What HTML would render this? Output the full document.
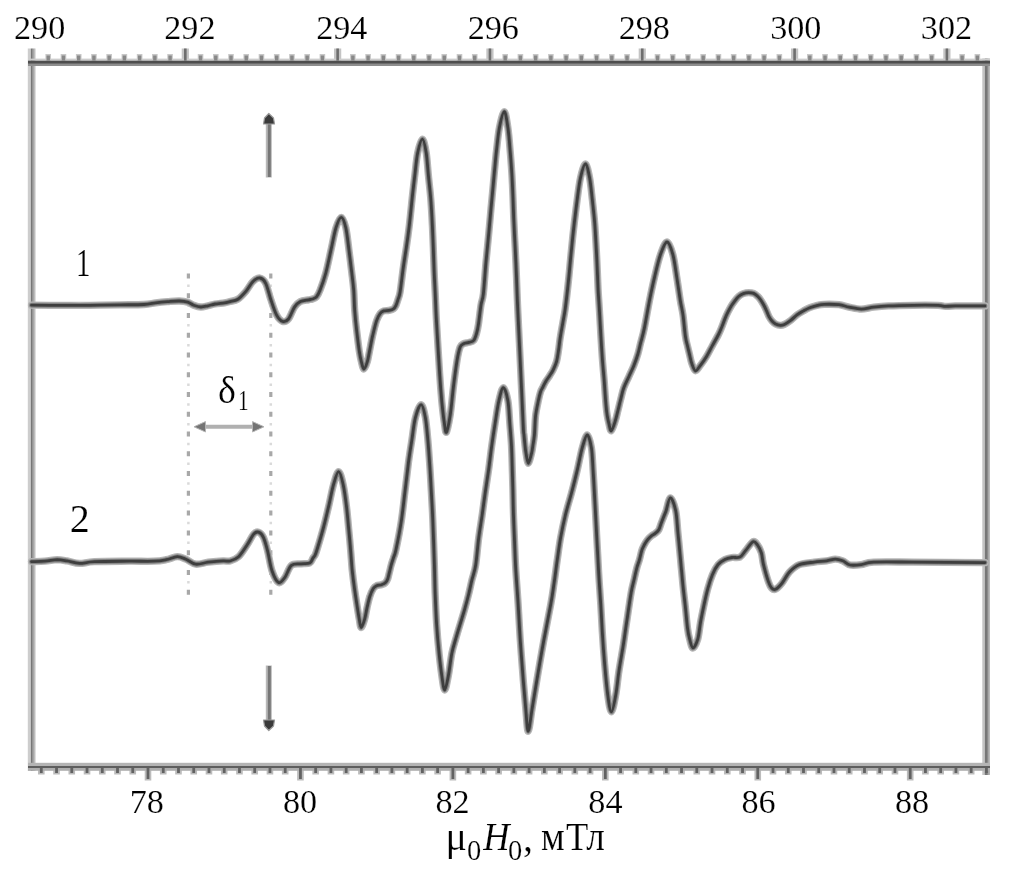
<!DOCTYPE html>
<html><head><meta charset="utf-8"><style>
html,body{margin:0;padding:0;background:#fff;}
body{width:1010px;height:882px;overflow:hidden;}
svg{display:block;}
text{font-family:"Liberation Serif",serif;fill:#000;}
</style></head><body>
<svg width="1010" height="882" viewBox="0 0 1010 882">
<rect width="1010" height="882" fill="#fff"/>
<g shape-rendering="auto"><rect x="45.43" y="54.00" width="5.60" height="6.70" fill="#c8c8c8"/><rect x="60.66" y="54.00" width="5.60" height="6.70" fill="#c8c8c8"/><rect x="75.90" y="54.00" width="5.60" height="6.70" fill="#c8c8c8"/><rect x="91.13" y="54.00" width="5.60" height="6.70" fill="#c8c8c8"/><rect x="106.36" y="54.00" width="5.60" height="6.70" fill="#c8c8c8"/><rect x="121.59" y="54.00" width="5.60" height="6.70" fill="#c8c8c8"/><rect x="136.82" y="54.00" width="5.60" height="6.70" fill="#c8c8c8"/><rect x="152.05" y="54.00" width="5.60" height="6.70" fill="#c8c8c8"/><rect x="167.28" y="54.00" width="5.60" height="6.70" fill="#c8c8c8"/><rect x="181.72" y="48.50" width="7.20" height="12.20" fill="#c4c4c4"/><rect x="197.75" y="54.00" width="5.60" height="6.70" fill="#c8c8c8"/><rect x="212.98" y="54.00" width="5.60" height="6.70" fill="#c8c8c8"/><rect x="228.21" y="54.00" width="5.60" height="6.70" fill="#c8c8c8"/><rect x="243.44" y="54.00" width="5.60" height="6.70" fill="#c8c8c8"/><rect x="258.68" y="54.00" width="5.60" height="6.70" fill="#c8c8c8"/><rect x="273.91" y="54.00" width="5.60" height="6.70" fill="#c8c8c8"/><rect x="289.14" y="54.00" width="5.60" height="6.70" fill="#c8c8c8"/><rect x="304.37" y="54.00" width="5.60" height="6.70" fill="#c8c8c8"/><rect x="319.60" y="54.00" width="5.60" height="6.70" fill="#c8c8c8"/><rect x="334.03" y="48.50" width="7.20" height="12.20" fill="#c4c4c4"/><rect x="350.06" y="54.00" width="5.60" height="6.70" fill="#c8c8c8"/><rect x="365.30" y="54.00" width="5.60" height="6.70" fill="#c8c8c8"/><rect x="380.53" y="54.00" width="5.60" height="6.70" fill="#c8c8c8"/><rect x="395.76" y="54.00" width="5.60" height="6.70" fill="#c8c8c8"/><rect x="410.99" y="54.00" width="5.60" height="6.70" fill="#c8c8c8"/><rect x="426.22" y="54.00" width="5.60" height="6.70" fill="#c8c8c8"/><rect x="441.45" y="54.00" width="5.60" height="6.70" fill="#c8c8c8"/><rect x="456.69" y="54.00" width="5.60" height="6.70" fill="#c8c8c8"/><rect x="471.92" y="54.00" width="5.60" height="6.70" fill="#c8c8c8"/><rect x="486.35" y="48.50" width="7.20" height="12.20" fill="#c4c4c4"/><rect x="502.38" y="54.00" width="5.60" height="6.70" fill="#c8c8c8"/><rect x="517.61" y="54.00" width="5.60" height="6.70" fill="#c8c8c8"/><rect x="532.85" y="54.00" width="5.60" height="6.70" fill="#c8c8c8"/><rect x="548.08" y="54.00" width="5.60" height="6.70" fill="#c8c8c8"/><rect x="563.31" y="54.00" width="5.60" height="6.70" fill="#c8c8c8"/><rect x="578.54" y="54.00" width="5.60" height="6.70" fill="#c8c8c8"/><rect x="593.77" y="54.00" width="5.60" height="6.70" fill="#c8c8c8"/><rect x="609.00" y="54.00" width="5.60" height="6.70" fill="#c8c8c8"/><rect x="624.24" y="54.00" width="5.60" height="6.70" fill="#c8c8c8"/><rect x="638.67" y="48.50" width="7.20" height="12.20" fill="#c4c4c4"/><rect x="654.70" y="54.00" width="5.60" height="6.70" fill="#c8c8c8"/><rect x="669.93" y="54.00" width="5.60" height="6.70" fill="#c8c8c8"/><rect x="685.16" y="54.00" width="5.60" height="6.70" fill="#c8c8c8"/><rect x="700.39" y="54.00" width="5.60" height="6.70" fill="#c8c8c8"/><rect x="715.62" y="54.00" width="5.60" height="6.70" fill="#c8c8c8"/><rect x="730.86" y="54.00" width="5.60" height="6.70" fill="#c8c8c8"/><rect x="746.09" y="54.00" width="5.60" height="6.70" fill="#c8c8c8"/><rect x="761.32" y="54.00" width="5.60" height="6.70" fill="#c8c8c8"/><rect x="776.55" y="54.00" width="5.60" height="6.70" fill="#c8c8c8"/><rect x="790.98" y="48.50" width="7.20" height="12.20" fill="#c4c4c4"/><rect x="807.02" y="54.00" width="5.60" height="6.70" fill="#c8c8c8"/><rect x="822.25" y="54.00" width="5.60" height="6.70" fill="#c8c8c8"/><rect x="837.48" y="54.00" width="5.60" height="6.70" fill="#c8c8c8"/><rect x="852.71" y="54.00" width="5.60" height="6.70" fill="#c8c8c8"/><rect x="867.94" y="54.00" width="5.60" height="6.70" fill="#c8c8c8"/><rect x="883.17" y="54.00" width="5.60" height="6.70" fill="#c8c8c8"/><rect x="898.41" y="54.00" width="5.60" height="6.70" fill="#c8c8c8"/><rect x="913.64" y="54.00" width="5.60" height="6.70" fill="#c8c8c8"/><rect x="928.87" y="54.00" width="5.60" height="6.70" fill="#c8c8c8"/><rect x="943.30" y="48.50" width="7.20" height="12.20" fill="#c4c4c4"/><rect x="959.33" y="54.00" width="5.60" height="6.70" fill="#c8c8c8"/><rect x="974.56" y="54.00" width="5.60" height="6.70" fill="#c8c8c8"/><rect x="37.99" y="768.00" width="6.60" height="6.50" fill="#bcbcbc"/><rect x="53.24" y="768.00" width="6.60" height="6.50" fill="#bcbcbc"/><rect x="68.48" y="768.00" width="6.60" height="6.50" fill="#bcbcbc"/><rect x="83.72" y="768.00" width="6.60" height="6.50" fill="#bcbcbc"/><rect x="98.97" y="768.00" width="6.60" height="6.50" fill="#bcbcbc"/><rect x="114.21" y="768.00" width="6.60" height="6.50" fill="#bcbcbc"/><rect x="129.46" y="768.00" width="6.60" height="6.50" fill="#bcbcbc"/><rect x="144.70" y="768.00" width="6.60" height="12.50" fill="#bcbcbc"/><rect x="159.94" y="768.00" width="6.60" height="6.50" fill="#bcbcbc"/><rect x="175.19" y="768.00" width="6.60" height="6.50" fill="#bcbcbc"/><rect x="190.43" y="768.00" width="6.60" height="6.50" fill="#bcbcbc"/><rect x="205.68" y="768.00" width="6.60" height="6.50" fill="#bcbcbc"/><rect x="220.92" y="768.00" width="6.60" height="6.50" fill="#bcbcbc"/><rect x="236.16" y="768.00" width="6.60" height="6.50" fill="#bcbcbc"/><rect x="251.41" y="768.00" width="6.60" height="6.50" fill="#bcbcbc"/><rect x="266.65" y="768.00" width="6.60" height="6.50" fill="#bcbcbc"/><rect x="281.90" y="768.00" width="6.60" height="6.50" fill="#bcbcbc"/><rect x="297.14" y="768.00" width="6.60" height="12.50" fill="#bcbcbc"/><rect x="312.38" y="768.00" width="6.60" height="6.50" fill="#bcbcbc"/><rect x="327.63" y="768.00" width="6.60" height="6.50" fill="#bcbcbc"/><rect x="342.87" y="768.00" width="6.60" height="6.50" fill="#bcbcbc"/><rect x="358.12" y="768.00" width="6.60" height="6.50" fill="#bcbcbc"/><rect x="373.36" y="768.00" width="6.60" height="6.50" fill="#bcbcbc"/><rect x="388.60" y="768.00" width="6.60" height="6.50" fill="#bcbcbc"/><rect x="403.85" y="768.00" width="6.60" height="6.50" fill="#bcbcbc"/><rect x="419.09" y="768.00" width="6.60" height="6.50" fill="#bcbcbc"/><rect x="434.34" y="768.00" width="6.60" height="6.50" fill="#bcbcbc"/><rect x="449.58" y="768.00" width="6.60" height="12.50" fill="#bcbcbc"/><rect x="464.82" y="768.00" width="6.60" height="6.50" fill="#bcbcbc"/><rect x="480.07" y="768.00" width="6.60" height="6.50" fill="#bcbcbc"/><rect x="495.31" y="768.00" width="6.60" height="6.50" fill="#bcbcbc"/><rect x="510.56" y="768.00" width="6.60" height="6.50" fill="#bcbcbc"/><rect x="525.80" y="768.00" width="6.60" height="6.50" fill="#bcbcbc"/><rect x="541.04" y="768.00" width="6.60" height="6.50" fill="#bcbcbc"/><rect x="556.29" y="768.00" width="6.60" height="6.50" fill="#bcbcbc"/><rect x="571.53" y="768.00" width="6.60" height="6.50" fill="#bcbcbc"/><rect x="586.78" y="768.00" width="6.60" height="6.50" fill="#bcbcbc"/><rect x="602.02" y="768.00" width="6.60" height="12.50" fill="#bcbcbc"/><rect x="617.26" y="768.00" width="6.60" height="6.50" fill="#bcbcbc"/><rect x="632.51" y="768.00" width="6.60" height="6.50" fill="#bcbcbc"/><rect x="647.75" y="768.00" width="6.60" height="6.50" fill="#bcbcbc"/><rect x="663.00" y="768.00" width="6.60" height="6.50" fill="#bcbcbc"/><rect x="678.24" y="768.00" width="6.60" height="6.50" fill="#bcbcbc"/><rect x="693.48" y="768.00" width="6.60" height="6.50" fill="#bcbcbc"/><rect x="708.73" y="768.00" width="6.60" height="6.50" fill="#bcbcbc"/><rect x="723.97" y="768.00" width="6.60" height="6.50" fill="#bcbcbc"/><rect x="739.22" y="768.00" width="6.60" height="6.50" fill="#bcbcbc"/><rect x="754.46" y="768.00" width="6.60" height="12.50" fill="#bcbcbc"/><rect x="769.70" y="768.00" width="6.60" height="6.50" fill="#bcbcbc"/><rect x="784.95" y="768.00" width="6.60" height="6.50" fill="#bcbcbc"/><rect x="800.19" y="768.00" width="6.60" height="6.50" fill="#bcbcbc"/><rect x="815.44" y="768.00" width="6.60" height="6.50" fill="#bcbcbc"/><rect x="830.68" y="768.00" width="6.60" height="6.50" fill="#bcbcbc"/><rect x="845.92" y="768.00" width="6.60" height="6.50" fill="#bcbcbc"/><rect x="861.17" y="768.00" width="6.60" height="6.50" fill="#bcbcbc"/><rect x="876.41" y="768.00" width="6.60" height="6.50" fill="#bcbcbc"/><rect x="891.66" y="768.00" width="6.60" height="6.50" fill="#bcbcbc"/><rect x="906.90" y="768.00" width="6.60" height="12.50" fill="#bcbcbc"/><rect x="922.14" y="768.00" width="6.60" height="6.50" fill="#bcbcbc"/><rect x="937.39" y="768.00" width="6.60" height="6.50" fill="#bcbcbc"/><rect x="952.63" y="768.00" width="6.60" height="6.50" fill="#bcbcbc"/><rect x="967.88" y="768.00" width="6.60" height="6.50" fill="#bcbcbc"/><rect x="983.12" y="768.00" width="6.60" height="6.50" fill="#bcbcbc"/><rect x="27.80" y="48.50" width="3.00" height="722.50" fill="#cdcdcd"/><rect x="30.80" y="48.50" width="2.00" height="722.50" fill="#777"/><rect x="32.80" y="48.50" width="2.00" height="722.50" fill="#a6a6a6"/><rect x="34.80" y="48.50" width="1.00" height="722.50" fill="#d8d8d8"/><rect x="982.30" y="58.50" width="2.50" height="716.50" fill="#c4c4c4"/><rect x="984.80" y="58.50" width="2.20" height="716.50" fill="#777"/><rect x="987.00" y="58.50" width="1.00" height="716.50" fill="#8a8a8a"/><rect x="988.00" y="58.50" width="1.80" height="716.50" fill="#a8a8a8"/><rect x="28.00" y="58.60" width="962.00" height="2.10" fill="#cdcdcd"/><rect x="28.00" y="60.70" width="962.00" height="2.30" fill="#4e4e4e"/><rect x="28.00" y="63.00" width="962.00" height="1.00" fill="#6c6c6c"/><rect x="28.00" y="64.00" width="962.00" height="2.00" fill="#8e8e8e"/><rect x="28.00" y="762.80" width="962.00" height="3.20" fill="#b4b4b4"/><rect x="28.00" y="766.00" width="962.00" height="2.00" fill="#5e5e5e"/><rect x="28.00" y="768.00" width="962.00" height="2.80" fill="#aeaeae"/><rect x="46.53" y="55.50" width="3.40" height="5.20" fill="#888"/><rect x="61.76" y="55.50" width="3.40" height="5.20" fill="#888"/><rect x="77.00" y="55.50" width="3.40" height="5.20" fill="#888"/><rect x="92.23" y="55.50" width="3.40" height="5.20" fill="#888"/><rect x="107.46" y="55.50" width="3.40" height="5.20" fill="#888"/><rect x="122.69" y="55.50" width="3.40" height="5.20" fill="#888"/><rect x="137.92" y="55.50" width="3.40" height="5.20" fill="#888"/><rect x="153.15" y="55.50" width="3.40" height="5.20" fill="#888"/><rect x="168.39" y="55.50" width="3.40" height="5.20" fill="#888"/><rect x="184.02" y="48.50" width="2.60" height="12.20" fill="#6e6e6e"/><rect x="198.85" y="55.50" width="3.40" height="5.20" fill="#888"/><rect x="214.08" y="55.50" width="3.40" height="5.20" fill="#888"/><rect x="229.31" y="55.50" width="3.40" height="5.20" fill="#888"/><rect x="244.54" y="55.50" width="3.40" height="5.20" fill="#888"/><rect x="259.78" y="55.50" width="3.40" height="5.20" fill="#888"/><rect x="275.01" y="55.50" width="3.40" height="5.20" fill="#888"/><rect x="290.24" y="55.50" width="3.40" height="5.20" fill="#888"/><rect x="305.47" y="55.50" width="3.40" height="5.20" fill="#888"/><rect x="320.70" y="55.50" width="3.40" height="5.20" fill="#888"/><rect x="336.33" y="48.50" width="2.60" height="12.20" fill="#6e6e6e"/><rect x="351.17" y="55.50" width="3.40" height="5.20" fill="#888"/><rect x="366.40" y="55.50" width="3.40" height="5.20" fill="#888"/><rect x="381.63" y="55.50" width="3.40" height="5.20" fill="#888"/><rect x="396.86" y="55.50" width="3.40" height="5.20" fill="#888"/><rect x="412.09" y="55.50" width="3.40" height="5.20" fill="#888"/><rect x="427.32" y="55.50" width="3.40" height="5.20" fill="#888"/><rect x="442.56" y="55.50" width="3.40" height="5.20" fill="#888"/><rect x="457.79" y="55.50" width="3.40" height="5.20" fill="#888"/><rect x="473.02" y="55.50" width="3.40" height="5.20" fill="#888"/><rect x="488.65" y="48.50" width="2.60" height="12.20" fill="#6e6e6e"/><rect x="503.48" y="55.50" width="3.40" height="5.20" fill="#888"/><rect x="518.71" y="55.50" width="3.40" height="5.20" fill="#888"/><rect x="533.94" y="55.50" width="3.40" height="5.20" fill="#888"/><rect x="549.18" y="55.50" width="3.40" height="5.20" fill="#888"/><rect x="564.41" y="55.50" width="3.40" height="5.20" fill="#888"/><rect x="579.64" y="55.50" width="3.40" height="5.20" fill="#888"/><rect x="594.87" y="55.50" width="3.40" height="5.20" fill="#888"/><rect x="610.10" y="55.50" width="3.40" height="5.20" fill="#888"/><rect x="625.34" y="55.50" width="3.40" height="5.20" fill="#888"/><rect x="640.97" y="48.50" width="2.60" height="12.20" fill="#6e6e6e"/><rect x="655.80" y="55.50" width="3.40" height="5.20" fill="#888"/><rect x="671.03" y="55.50" width="3.40" height="5.20" fill="#888"/><rect x="686.26" y="55.50" width="3.40" height="5.20" fill="#888"/><rect x="701.49" y="55.50" width="3.40" height="5.20" fill="#888"/><rect x="716.72" y="55.50" width="3.40" height="5.20" fill="#888"/><rect x="731.96" y="55.50" width="3.40" height="5.20" fill="#888"/><rect x="747.19" y="55.50" width="3.40" height="5.20" fill="#888"/><rect x="762.42" y="55.50" width="3.40" height="5.20" fill="#888"/><rect x="777.65" y="55.50" width="3.40" height="5.20" fill="#888"/><rect x="793.28" y="48.50" width="2.60" height="12.20" fill="#6e6e6e"/><rect x="808.12" y="55.50" width="3.40" height="5.20" fill="#888"/><rect x="823.35" y="55.50" width="3.40" height="5.20" fill="#888"/><rect x="838.58" y="55.50" width="3.40" height="5.20" fill="#888"/><rect x="853.81" y="55.50" width="3.40" height="5.20" fill="#888"/><rect x="869.04" y="55.50" width="3.40" height="5.20" fill="#888"/><rect x="884.27" y="55.50" width="3.40" height="5.20" fill="#888"/><rect x="899.50" y="55.50" width="3.40" height="5.20" fill="#888"/><rect x="914.74" y="55.50" width="3.40" height="5.20" fill="#888"/><rect x="929.97" y="55.50" width="3.40" height="5.20" fill="#888"/><rect x="945.60" y="48.50" width="2.60" height="12.20" fill="#6e6e6e"/><rect x="960.43" y="55.50" width="3.40" height="5.20" fill="#888"/><rect x="975.66" y="55.50" width="3.40" height="5.20" fill="#888"/><rect x="39.89" y="768.00" width="2.80" height="5.00" fill="#626262"/><rect x="55.14" y="768.00" width="2.80" height="5.00" fill="#626262"/><rect x="70.38" y="768.00" width="2.80" height="5.00" fill="#626262"/><rect x="85.62" y="768.00" width="2.80" height="5.00" fill="#626262"/><rect x="100.87" y="768.00" width="2.80" height="5.00" fill="#626262"/><rect x="116.11" y="768.00" width="2.80" height="5.00" fill="#626262"/><rect x="131.36" y="768.00" width="2.80" height="5.00" fill="#626262"/><rect x="146.60" y="768.00" width="2.80" height="11.00" fill="#626262"/><rect x="161.84" y="768.00" width="2.80" height="5.00" fill="#626262"/><rect x="177.09" y="768.00" width="2.80" height="5.00" fill="#626262"/><rect x="192.33" y="768.00" width="2.80" height="5.00" fill="#626262"/><rect x="207.58" y="768.00" width="2.80" height="5.00" fill="#626262"/><rect x="222.82" y="768.00" width="2.80" height="5.00" fill="#626262"/><rect x="238.06" y="768.00" width="2.80" height="5.00" fill="#626262"/><rect x="253.31" y="768.00" width="2.80" height="5.00" fill="#626262"/><rect x="268.55" y="768.00" width="2.80" height="5.00" fill="#626262"/><rect x="283.80" y="768.00" width="2.80" height="5.00" fill="#626262"/><rect x="299.04" y="768.00" width="2.80" height="11.00" fill="#626262"/><rect x="314.28" y="768.00" width="2.80" height="5.00" fill="#626262"/><rect x="329.53" y="768.00" width="2.80" height="5.00" fill="#626262"/><rect x="344.77" y="768.00" width="2.80" height="5.00" fill="#626262"/><rect x="360.02" y="768.00" width="2.80" height="5.00" fill="#626262"/><rect x="375.26" y="768.00" width="2.80" height="5.00" fill="#626262"/><rect x="390.50" y="768.00" width="2.80" height="5.00" fill="#626262"/><rect x="405.75" y="768.00" width="2.80" height="5.00" fill="#626262"/><rect x="420.99" y="768.00" width="2.80" height="5.00" fill="#626262"/><rect x="436.24" y="768.00" width="2.80" height="5.00" fill="#626262"/><rect x="451.48" y="768.00" width="2.80" height="11.00" fill="#626262"/><rect x="466.72" y="768.00" width="2.80" height="5.00" fill="#626262"/><rect x="481.97" y="768.00" width="2.80" height="5.00" fill="#626262"/><rect x="497.21" y="768.00" width="2.80" height="5.00" fill="#626262"/><rect x="512.46" y="768.00" width="2.80" height="5.00" fill="#626262"/><rect x="527.70" y="768.00" width="2.80" height="5.00" fill="#626262"/><rect x="542.94" y="768.00" width="2.80" height="5.00" fill="#626262"/><rect x="558.19" y="768.00" width="2.80" height="5.00" fill="#626262"/><rect x="573.43" y="768.00" width="2.80" height="5.00" fill="#626262"/><rect x="588.68" y="768.00" width="2.80" height="5.00" fill="#626262"/><rect x="603.92" y="768.00" width="2.80" height="11.00" fill="#626262"/><rect x="619.16" y="768.00" width="2.80" height="5.00" fill="#626262"/><rect x="634.41" y="768.00" width="2.80" height="5.00" fill="#626262"/><rect x="649.65" y="768.00" width="2.80" height="5.00" fill="#626262"/><rect x="664.90" y="768.00" width="2.80" height="5.00" fill="#626262"/><rect x="680.14" y="768.00" width="2.80" height="5.00" fill="#626262"/><rect x="695.38" y="768.00" width="2.80" height="5.00" fill="#626262"/><rect x="710.63" y="768.00" width="2.80" height="5.00" fill="#626262"/><rect x="725.87" y="768.00" width="2.80" height="5.00" fill="#626262"/><rect x="741.12" y="768.00" width="2.80" height="5.00" fill="#626262"/><rect x="756.36" y="768.00" width="2.80" height="11.00" fill="#626262"/><rect x="771.60" y="768.00" width="2.80" height="5.00" fill="#626262"/><rect x="786.85" y="768.00" width="2.80" height="5.00" fill="#626262"/><rect x="802.09" y="768.00" width="2.80" height="5.00" fill="#626262"/><rect x="817.34" y="768.00" width="2.80" height="5.00" fill="#626262"/><rect x="832.58" y="768.00" width="2.80" height="5.00" fill="#626262"/><rect x="847.82" y="768.00" width="2.80" height="5.00" fill="#626262"/><rect x="863.07" y="768.00" width="2.80" height="5.00" fill="#626262"/><rect x="878.31" y="768.00" width="2.80" height="5.00" fill="#626262"/><rect x="893.56" y="768.00" width="2.80" height="5.00" fill="#626262"/><rect x="908.80" y="768.00" width="2.80" height="11.00" fill="#626262"/><rect x="924.04" y="768.00" width="2.80" height="5.00" fill="#626262"/><rect x="939.29" y="768.00" width="2.80" height="5.00" fill="#626262"/><rect x="954.53" y="768.00" width="2.80" height="5.00" fill="#626262"/><rect x="969.78" y="768.00" width="2.80" height="5.00" fill="#626262"/><rect x="985.02" y="768.00" width="2.80" height="5.00" fill="#626262"/></g>
<g stroke="#a8a8a8" stroke-width="3.2" fill="none">
<line x1="188.4" y1="273.5" x2="188.4" y2="595" stroke-dasharray="5 14.76"/>
<line x1="270.8" y1="273.5" x2="270.8" y2="595" stroke-dasharray="5 14.76"/>
</g>
<g stroke="#dadada" stroke-width="2.5" fill="none">
<line x1="188.4" y1="284.6" x2="188.4" y2="595" stroke-dasharray="2.5 17.26"/>
<line x1="270.8" y1="284.6" x2="270.8" y2="595" stroke-dasharray="2.5 17.26"/>
</g>
<g fill="none" stroke-linejoin="round" stroke-linecap="round">
<path d="M31.5,305.2C36.2,305.2 50.2,305.3 60.0,305.3C69.8,305.3 80.0,305.4 90.0,305.3C100.0,305.2 111.0,304.9 120.0,304.8C129.0,304.7 137.9,304.8 143.8,304.5C149.7,304.2 151.7,303.4 155.6,302.9C159.5,302.4 163.5,302.0 167.5,301.7C171.5,301.4 176.0,300.9 179.4,301.0C182.8,301.1 185.3,301.5 187.7,302.2C190.1,302.9 191.5,304.4 193.7,305.2C195.9,306.0 198.4,306.9 200.8,307.0C203.2,307.1 205.5,306.3 207.9,305.8C210.3,305.3 212.2,304.5 215.0,304.0C217.8,303.5 222.0,303.2 224.5,302.8C227.0,302.4 227.8,302.2 230.0,301.6C232.2,301.0 235.2,300.9 237.9,299.2C240.6,297.5 243.4,294.2 245.9,291.3C248.4,288.4 250.5,283.9 252.8,281.7C255.1,279.5 257.7,277.7 259.8,278.0C261.9,278.3 263.9,279.8 265.7,283.3C267.5,286.8 268.9,293.9 270.7,299.2C272.5,304.5 274.6,311.4 276.6,315.1C278.6,318.8 280.6,320.8 282.6,321.4C284.6,322.0 286.5,321.4 288.5,319.0C290.5,316.6 292.5,310.0 294.5,307.1C296.5,304.2 298.1,302.8 300.4,301.6C302.7,300.4 306.4,300.2 308.4,299.8C310.4,299.4 311.1,299.5 312.5,299.0C313.9,298.5 315.2,298.3 316.5,296.8C317.8,295.3 318.6,294.0 320.1,290.0C321.7,286.0 324.0,279.6 325.8,273.0C327.6,266.4 329.2,257.9 330.9,250.4C332.6,242.8 334.3,233.2 336.0,227.7C337.7,222.2 339.7,217.3 341.3,217.3C342.9,217.3 344.5,222.2 345.8,227.7C347.1,233.2 348.0,242.8 349.0,250.4C350.0,257.9 351.0,266.4 351.8,273.0C352.6,279.6 353.2,283.8 353.7,290.0C354.2,296.2 354.2,303.6 354.7,310.4C355.2,317.2 355.9,324.0 356.7,330.8C357.5,337.6 358.5,346.1 359.3,351.2C360.1,356.3 360.5,358.4 361.3,361.4C362.1,364.4 362.9,369.0 363.9,369.0C364.9,369.0 366.5,364.4 367.4,361.4C368.3,358.4 368.6,355.4 369.5,351.2C370.4,346.9 371.4,341.0 372.6,335.9C373.8,330.8 375.3,324.3 376.6,320.6C377.9,316.9 379.0,315.1 380.2,313.5C381.4,311.9 382.4,311.4 383.8,310.9C385.2,310.4 387.3,310.7 388.9,310.4C390.5,310.1 392.3,309.8 393.5,308.9C394.7,308.0 395.2,306.9 396.0,305.3C396.8,303.7 397.4,301.4 398.1,299.2C398.8,297.0 399.3,296.8 400.1,292.0C400.9,287.2 401.9,277.8 402.9,270.4C403.9,263.0 405.2,255.0 406.3,247.7C407.4,240.4 408.2,234.7 409.2,226.4C410.2,218.1 411.3,206.5 412.2,198.0C413.1,189.5 413.9,183.0 414.8,175.4C415.7,167.8 416.4,158.7 417.7,152.7C419.0,146.7 421.0,139.2 422.4,139.2C423.8,139.2 425.2,146.7 426.2,152.7C427.2,158.7 427.6,167.8 428.4,175.4C429.1,183.0 430.0,189.5 430.7,198.0C431.4,206.5 432.0,218.1 432.4,226.4C432.8,234.7 433.0,240.4 433.3,247.7C433.6,255.0 433.8,262.8 434.1,270.4C434.4,277.9 434.8,284.7 435.2,293.0C435.6,301.3 435.9,311.0 436.4,320.0C436.9,329.0 437.4,338.1 438.0,347.2C438.6,356.3 439.1,365.3 439.7,374.4C440.3,383.5 441.1,393.7 441.8,401.6C442.6,409.5 443.4,416.9 444.2,422.0C445.0,427.1 445.4,433.4 446.4,432.3C447.4,431.2 449.0,422.6 450.2,415.2C451.4,407.8 452.2,397.1 453.3,388.0C454.4,378.9 455.9,367.6 457.0,360.8C458.1,354.0 459.0,350.0 460.1,347.2C461.2,344.4 462.0,344.6 463.5,343.8C465.0,343.0 467.3,343.0 469.0,342.4C470.7,341.8 472.4,341.9 473.7,340.4C474.9,338.9 475.7,336.3 476.5,333.6C477.3,330.9 477.8,328.8 478.5,324.0C479.2,319.2 480.2,310.1 481.0,305.0C481.8,299.9 482.6,300.6 483.4,293.6C484.2,286.6 485.1,271.9 485.9,263.0C486.7,254.1 487.4,248.0 488.1,240.4C488.8,232.8 489.6,224.8 490.2,217.7C490.8,210.6 491.3,205.4 492.0,198.0C492.7,190.6 493.6,180.9 494.3,173.0C495.1,165.1 495.6,158.0 496.5,150.4C497.4,142.8 498.1,134.2 499.4,127.7C500.7,121.2 502.9,111.6 504.3,111.6C505.7,111.6 506.9,121.2 507.9,127.7C508.9,134.2 509.5,142.8 510.1,150.4C510.8,158.0 511.3,165.1 511.8,173.0C512.3,180.9 512.7,190.6 513.0,198.0C513.3,205.4 513.4,210.6 513.7,217.7C514.0,224.8 514.4,232.8 514.8,240.4C515.2,248.0 515.5,254.1 515.9,263.0C516.3,271.9 516.8,285.3 517.1,293.6C517.4,301.9 517.4,301.5 517.9,312.6C518.4,323.7 519.3,341.5 520.2,360.2C521.1,378.9 522.6,412.5 523.2,425.0C523.8,437.5 523.7,431.8 524.0,435.2C524.3,438.6 524.7,442.4 525.0,445.4C525.3,448.4 525.5,450.1 526.0,453.1C526.5,456.1 527.4,463.3 528.3,463.3C529.2,463.3 530.8,456.1 531.6,453.1C532.4,450.1 532.4,448.4 532.9,445.4C533.4,442.4 533.9,440.2 534.4,435.2C534.9,430.2 534.9,421.5 535.6,415.6C536.3,409.7 537.7,403.9 538.5,400.0C539.3,396.1 539.8,394.2 540.5,392.0C541.2,389.8 542.1,388.6 543.0,386.8C543.9,385.0 544.8,383.1 545.9,381.2C547.0,379.3 548.6,377.4 549.8,375.5C551.0,373.6 552.1,372.2 553.2,369.8C554.3,367.4 555.7,364.6 556.6,361.3C557.5,358.0 558.0,353.8 558.6,350.0C559.2,346.2 559.4,343.0 560.1,338.5C560.8,334.0 561.9,327.9 562.8,323.0C563.6,318.1 564.2,316.2 565.2,309.0C566.2,301.8 567.6,289.1 568.6,279.5C569.6,269.9 570.3,260.8 571.3,251.4C572.2,242.0 573.3,231.5 574.3,223.0C575.3,214.5 576.1,208.0 577.1,200.4C578.1,192.8 579.1,183.8 580.5,177.7C581.9,171.6 583.9,164.0 585.4,164.0C586.9,164.0 588.4,171.6 589.6,177.7C590.8,183.8 591.5,192.8 592.4,200.4C593.2,208.0 594.0,214.5 594.7,223.0C595.4,231.5 595.9,242.7 596.4,251.4C596.9,260.1 597.2,268.1 597.5,275.0C597.8,281.9 597.9,286.4 598.3,293.1C598.7,299.8 599.3,307.8 599.7,315.0C600.1,322.2 600.5,329.0 600.9,336.2C601.3,343.4 601.8,350.8 602.3,358.0C602.8,365.2 603.6,373.1 604.1,379.3C604.6,385.5 604.9,390.7 605.2,395.0C605.5,399.3 605.7,401.8 606.0,405.2C606.3,408.6 606.7,412.4 607.2,415.4C607.7,418.4 608.1,420.5 608.8,423.1C609.5,425.7 610.2,431.2 611.3,430.8C612.4,430.4 614.3,423.9 615.4,420.5C616.5,417.1 617.1,413.7 618.0,410.3C618.9,406.9 619.5,403.8 620.5,400.1C621.5,396.4 622.3,391.9 623.7,388.0C625.1,384.1 627.1,380.5 628.8,376.7C630.5,372.9 632.4,369.2 633.9,365.4C635.4,361.6 636.8,357.8 637.9,354.0C639.0,350.2 639.6,347.0 640.7,342.7C641.8,338.4 642.8,335.5 644.3,328.4C645.8,321.3 647.9,308.5 649.6,300.0C651.3,291.5 652.7,284.9 654.5,277.4C656.3,269.8 658.3,260.6 660.4,254.7C662.5,248.8 664.9,242.0 667.0,242.0C669.1,242.0 671.3,248.8 672.9,254.7C674.5,260.6 675.6,269.8 676.8,277.4C678.0,284.9 679.2,293.7 680.2,300.0C681.2,306.3 682.1,308.9 683.0,315.0C683.9,321.1 684.6,331.1 685.4,336.3C686.1,341.5 686.8,343.0 687.5,346.0C688.2,349.0 688.8,351.5 689.5,354.4C690.2,357.3 690.8,360.8 691.8,363.5C692.8,366.2 694.0,370.5 695.4,370.8C696.8,371.1 698.5,367.7 700.4,365.3C702.3,362.9 704.7,359.5 706.7,356.2C708.7,352.9 710.5,349.0 712.5,345.4C714.5,341.8 716.9,337.6 718.5,334.5C720.1,331.4 720.9,329.1 722.0,326.5C723.1,323.9 724.0,321.0 725.0,318.6C726.0,316.2 726.8,314.4 727.9,312.2C729.0,310.0 730.2,307.6 731.4,305.7C732.6,303.8 733.7,302.4 734.9,300.8C736.1,299.2 737.4,297.5 738.8,296.3C740.2,295.1 741.6,294.2 743.3,293.6C744.9,293.0 747.0,292.6 748.7,292.6C750.4,292.6 752.2,292.8 753.7,293.4C755.2,294.0 756.5,295.2 757.6,296.3C758.8,297.4 759.6,298.4 760.6,299.8C761.6,301.2 762.6,303.0 763.6,304.8C764.6,306.6 765.6,308.7 766.5,310.7C767.4,312.7 768.1,314.9 769.0,316.6C769.9,318.3 770.9,319.8 772.0,321.0C773.1,322.2 774.2,323.3 775.6,324.0C777.0,324.7 778.9,325.2 780.4,325.3C781.9,325.4 782.7,325.2 784.4,324.4C786.1,323.6 788.6,322.0 790.7,320.4C792.8,318.8 794.9,316.5 797.0,314.9C799.1,313.3 801.3,312.1 803.4,310.9C805.5,309.7 807.3,308.6 809.7,307.7C812.1,306.8 815.2,305.9 817.6,305.3C820.0,304.7 820.6,304.4 824.2,304.3C827.8,304.2 834.9,304.2 839.0,304.7C843.1,305.2 845.2,306.4 848.9,307.1C852.6,307.8 857.2,309.1 861.3,309.1C865.4,309.1 869.2,307.6 873.7,307.1C878.2,306.6 881.9,306.2 888.5,305.9C895.1,305.6 905.0,305.4 913.3,305.3C921.5,305.2 932.6,305.2 938.0,305.4C943.4,305.6 942.5,306.3 945.4,306.4C948.3,306.5 948.7,306.0 955.3,305.9C961.9,305.8 980.0,305.9 985.0,305.9" stroke="#b6b6b6" stroke-width="7.3"/>
<path d="M31.5,561.7C33.7,561.6 40.6,561.5 44.9,561.2C49.2,560.9 53.5,559.8 57.2,559.7C60.9,559.7 63.4,560.3 67.1,560.9C70.8,561.5 75.0,563.3 79.5,563.4C84.0,563.5 86.2,562.1 94.4,561.7C102.7,561.3 119.1,561.3 129.0,561.2C138.9,561.1 147.6,561.5 153.8,561.2C160.0,561.0 162.2,560.5 166.1,559.7C170.0,559.0 174.0,556.8 177.3,556.7C180.6,556.6 182.8,558.0 185.9,559.2C189.0,560.5 192.1,563.7 195.8,564.2C199.5,564.7 203.6,562.8 208.2,562.2C212.8,561.7 219.5,561.1 223.1,560.9C226.7,560.7 227.4,561.7 230.0,561.0C232.6,560.3 235.7,559.4 238.6,556.7C241.5,554.0 244.7,548.6 247.2,544.8C249.7,541.0 251.8,536.2 253.7,534.1C255.6,532.0 256.9,531.7 258.5,532.2C260.1,532.7 261.9,534.1 263.4,537.3C264.9,540.5 266.3,545.7 267.7,551.3C269.1,556.9 270.2,565.5 272.0,570.7C273.8,575.9 276.3,581.4 278.5,582.5C280.7,583.6 282.9,580.1 285.0,577.2C287.1,574.3 288.7,567.5 291.4,565.3C294.1,563.1 298.1,564.2 301.1,563.8C304.2,563.4 307.7,564.1 309.7,563.1C311.7,562.1 311.9,559.7 313.0,558.0C314.1,556.3 314.4,557.4 316.0,552.7C317.6,548.0 320.7,537.5 322.8,530.0C324.9,522.5 326.6,514.9 328.4,507.4C330.2,499.8 331.8,490.7 333.5,484.7C335.2,478.7 337.0,471.6 338.6,471.6C340.2,471.6 341.9,478.7 343.2,484.7C344.5,490.7 345.7,499.8 346.6,507.4C347.5,514.9 348.1,522.9 348.8,530.0C349.5,537.1 350.1,543.5 350.6,550.0C351.2,556.5 351.5,562.9 352.1,569.3C352.8,575.7 353.6,582.2 354.5,588.6C355.4,595.0 356.6,602.8 357.4,607.9C358.2,613.0 358.7,616.1 359.3,619.4C359.9,622.7 360.3,627.5 361.2,627.5C362.1,627.5 363.6,622.7 364.6,619.4C365.6,616.1 366.1,611.8 367.0,607.9C367.9,604.0 368.8,599.5 369.9,596.3C370.9,593.1 372.2,590.4 373.3,588.6C374.4,586.8 375.2,586.4 376.6,585.7C378.0,585.1 380.1,585.2 381.5,584.7C382.9,584.2 384.3,583.8 385.3,582.8C386.3,581.8 387.1,580.5 387.7,578.9C388.3,577.3 388.6,575.4 389.2,573.1C389.8,570.9 390.4,568.0 391.1,565.4C391.8,562.8 392.7,560.3 393.5,557.7C394.3,555.1 394.6,556.1 395.9,550.0C397.2,543.9 399.8,530.9 401.3,521.1C402.8,511.3 403.8,501.1 405.0,491.4C406.2,481.7 407.3,471.5 408.4,463.0C409.5,454.5 410.6,447.9 411.8,440.4C413.0,432.8 413.8,423.7 415.4,417.7C416.9,411.7 419.4,404.6 421.1,404.6C422.8,404.6 424.3,411.7 425.4,417.7C426.5,423.7 427.2,432.8 427.9,440.4C428.6,447.9 429.0,454.5 429.6,463.0C430.2,471.5 430.8,481.9 431.3,491.4C431.8,500.9 432.3,507.7 432.8,520.0C433.3,532.3 434.0,552.6 434.4,565.0C434.8,577.4 434.8,584.7 435.2,594.5C435.6,604.3 436.0,614.2 436.6,624.0C437.2,633.8 438.2,644.9 439.1,653.5C440.0,662.1 440.9,669.5 441.8,675.6C442.7,681.7 443.6,690.0 444.7,690.0C445.8,690.0 447.2,681.7 448.4,675.6C449.6,669.5 450.6,659.6 451.8,653.5C453.0,647.4 454.4,643.6 455.8,638.7C457.2,633.8 458.7,628.9 460.2,624.0C461.7,619.1 463.3,614.1 464.7,609.2C466.1,604.3 467.4,599.4 468.6,594.5C469.8,589.6 470.8,584.6 472.0,579.7C473.2,574.8 474.6,572.0 475.7,565.0C476.8,558.0 477.6,546.3 478.7,538.0C479.8,529.7 481.0,522.9 482.1,515.4C483.2,507.8 484.1,500.3 485.2,492.7C486.3,485.1 487.5,477.8 488.6,470.0C489.7,462.2 490.6,453.8 491.7,446.0C492.8,438.2 493.9,430.9 495.1,423.4C496.3,415.8 497.5,406.7 498.9,400.7C500.3,394.7 501.9,387.6 503.4,387.6C504.9,387.6 506.8,394.7 507.9,400.7C509.0,406.7 509.2,415.8 509.8,423.4C510.4,430.9 511.1,438.2 511.5,446.0C511.9,453.8 512.1,462.7 512.3,470.0C512.5,477.3 512.7,482.4 512.9,490.0C513.1,497.6 513.2,507.4 513.5,515.4C513.8,523.4 514.0,529.5 514.4,538.0C514.8,546.5 515.0,555.5 515.6,566.4C516.2,577.3 517.3,590.9 518.1,603.5C518.9,616.1 519.5,629.2 520.4,642.1C521.3,655.0 522.4,669.4 523.3,680.6C524.2,691.8 525.0,701.0 525.8,709.5C526.6,718.0 527.2,731.3 528.2,731.3C529.2,731.3 530.6,718.0 532.0,709.5C533.4,701.0 534.9,691.8 536.8,680.6C538.7,669.4 541.1,655.0 543.5,642.1C545.9,629.2 549.1,613.4 550.9,603.5C552.7,593.6 553.0,590.2 554.1,583.0C555.2,575.8 556.1,567.9 557.2,560.4C558.3,552.9 559.2,545.3 560.6,537.7C562.0,530.1 563.6,522.5 565.4,515.0C567.2,507.6 569.5,500.4 571.5,493.0C573.5,485.6 575.4,477.9 577.2,470.4C579.0,462.8 580.6,453.6 582.3,447.7C584.0,441.8 585.7,435.0 587.2,435.0C588.7,435.0 590.4,441.8 591.4,447.7C592.4,453.6 592.6,462.8 593.1,470.4C593.6,477.9 594.0,485.6 594.4,493.0C594.8,500.4 595.2,507.5 595.6,515.0C596.0,522.5 596.4,530.5 596.8,538.0C597.2,545.5 597.6,552.5 598.0,560.0C598.4,567.5 598.8,575.5 599.3,583.0C599.8,590.5 600.3,596.8 600.8,605.0C601.3,613.2 601.7,622.2 602.3,632.0C602.9,641.8 603.7,653.0 604.6,663.5C605.5,674.0 606.7,687.1 607.8,695.2C608.9,703.3 610.1,711.9 611.4,711.9C612.7,711.9 614.5,702.0 615.7,695.2C617.0,688.5 617.7,679.3 618.9,671.4C620.1,663.5 622.0,653.1 622.9,647.6C623.8,642.1 623.5,643.5 624.3,638.5C625.0,633.5 626.2,625.0 627.4,617.3C628.5,609.6 630.1,598.5 631.2,592.3C632.3,586.1 633.1,584.0 634.0,580.0C634.9,576.0 635.9,571.4 636.8,568.0C637.7,564.6 638.7,562.4 639.5,559.5C640.3,556.6 641.0,552.9 641.8,550.4C642.6,547.9 643.5,546.4 644.5,544.5C645.5,542.6 646.7,540.8 647.9,539.3C649.1,537.8 650.4,536.6 651.7,535.6C653.0,534.6 654.3,534.2 655.5,533.2C656.7,532.2 657.8,531.5 658.8,529.8C659.8,528.1 660.4,525.3 661.2,523.2C662.0,521.1 662.7,519.4 663.5,517.3C664.3,515.2 665.0,513.9 666.1,510.7C667.2,507.4 668.8,497.8 670.4,497.8C672.0,497.8 674.4,504.8 675.7,510.7C677.0,516.6 677.2,525.9 678.0,533.4C678.8,540.9 679.6,549.9 680.2,556.0C680.8,562.1 681.0,565.2 681.5,570.0C682.0,574.8 682.3,579.1 682.9,585.0C683.5,590.9 684.4,598.2 685.2,605.4C686.0,612.6 686.8,622.3 687.5,628.0C688.2,633.7 688.8,636.1 689.7,639.4C690.6,642.7 691.6,648.0 692.9,648.0C694.2,648.0 696.4,643.7 697.7,639.4C699.0,635.1 699.5,628.1 700.5,622.4C701.5,616.7 702.7,611.1 703.9,605.4C705.1,599.7 706.5,593.4 707.9,588.3C709.3,583.2 710.7,578.7 712.4,574.7C714.1,570.7 716.0,567.0 718.1,564.5C720.2,562.0 722.6,560.7 724.9,559.5C727.2,558.3 729.4,557.9 731.9,557.5C734.4,557.1 737.6,558.2 739.9,557.1C742.2,556.0 743.3,553.3 745.5,550.7C747.7,548.1 751.0,542.7 753.0,541.7C755.0,540.8 756.1,543.1 757.5,545.0C758.9,546.9 760.4,549.7 761.4,553.0C762.4,556.3 762.3,559.8 763.5,564.6C764.7,569.4 767.1,578.0 768.5,581.9C769.9,585.8 770.4,586.9 771.6,588.1C772.8,589.3 773.8,590.1 775.5,589.3C777.2,588.5 779.8,586.0 782.1,583.1C784.4,580.2 786.6,575.1 789.5,572.0C792.4,568.9 795.3,566.2 799.4,564.6C803.5,563.0 809.8,562.7 814.3,562.1C818.8,561.5 823.1,561.3 826.6,560.8C830.1,560.3 832.6,559.1 835.3,559.1C838.0,559.1 840.2,559.8 842.7,560.8C845.2,561.8 847.0,564.4 850.1,565.0C853.2,565.6 857.4,565.1 861.3,564.6C865.2,564.1 865.0,562.5 873.7,562.1C882.4,561.7 894.8,562.0 913.3,562.1C931.8,562.2 973.0,562.5 985.0,562.6" stroke="#b6b6b6" stroke-width="7.3"/>
<path d="M31.5,305.2C36.2,305.2 50.2,305.3 60.0,305.3C69.8,305.3 80.0,305.4 90.0,305.3C100.0,305.2 111.0,304.9 120.0,304.8C129.0,304.7 137.9,304.8 143.8,304.5C149.7,304.2 151.7,303.4 155.6,302.9C159.5,302.4 163.5,302.0 167.5,301.7C171.5,301.4 176.0,300.9 179.4,301.0C182.8,301.1 185.3,301.5 187.7,302.2C190.1,302.9 191.5,304.4 193.7,305.2C195.9,306.0 198.4,306.9 200.8,307.0C203.2,307.1 205.5,306.3 207.9,305.8C210.3,305.3 212.2,304.5 215.0,304.0C217.8,303.5 222.0,303.2 224.5,302.8C227.0,302.4 227.8,302.2 230.0,301.6C232.2,301.0 235.2,300.9 237.9,299.2C240.6,297.5 243.4,294.2 245.9,291.3C248.4,288.4 250.5,283.9 252.8,281.7C255.1,279.5 257.7,277.7 259.8,278.0C261.9,278.3 263.9,279.8 265.7,283.3C267.5,286.8 268.9,293.9 270.7,299.2C272.5,304.5 274.6,311.4 276.6,315.1C278.6,318.8 280.6,320.8 282.6,321.4C284.6,322.0 286.5,321.4 288.5,319.0C290.5,316.6 292.5,310.0 294.5,307.1C296.5,304.2 298.1,302.8 300.4,301.6C302.7,300.4 306.4,300.2 308.4,299.8C310.4,299.4 311.1,299.5 312.5,299.0C313.9,298.5 315.2,298.3 316.5,296.8C317.8,295.3 318.6,294.0 320.1,290.0C321.7,286.0 324.0,279.6 325.8,273.0C327.6,266.4 329.2,257.9 330.9,250.4C332.6,242.8 334.3,233.2 336.0,227.7C337.7,222.2 339.7,217.3 341.3,217.3C342.9,217.3 344.5,222.2 345.8,227.7C347.1,233.2 348.0,242.8 349.0,250.4C350.0,257.9 351.0,266.4 351.8,273.0C352.6,279.6 353.2,283.8 353.7,290.0C354.2,296.2 354.2,303.6 354.7,310.4C355.2,317.2 355.9,324.0 356.7,330.8C357.5,337.6 358.5,346.1 359.3,351.2C360.1,356.3 360.5,358.4 361.3,361.4C362.1,364.4 362.9,369.0 363.9,369.0C364.9,369.0 366.5,364.4 367.4,361.4C368.3,358.4 368.6,355.4 369.5,351.2C370.4,346.9 371.4,341.0 372.6,335.9C373.8,330.8 375.3,324.3 376.6,320.6C377.9,316.9 379.0,315.1 380.2,313.5C381.4,311.9 382.4,311.4 383.8,310.9C385.2,310.4 387.3,310.7 388.9,310.4C390.5,310.1 392.3,309.8 393.5,308.9C394.7,308.0 395.2,306.9 396.0,305.3C396.8,303.7 397.4,301.4 398.1,299.2C398.8,297.0 399.3,296.8 400.1,292.0C400.9,287.2 401.9,277.8 402.9,270.4C403.9,263.0 405.2,255.0 406.3,247.7C407.4,240.4 408.2,234.7 409.2,226.4C410.2,218.1 411.3,206.5 412.2,198.0C413.1,189.5 413.9,183.0 414.8,175.4C415.7,167.8 416.4,158.7 417.7,152.7C419.0,146.7 421.0,139.2 422.4,139.2C423.8,139.2 425.2,146.7 426.2,152.7C427.2,158.7 427.6,167.8 428.4,175.4C429.1,183.0 430.0,189.5 430.7,198.0C431.4,206.5 432.0,218.1 432.4,226.4C432.8,234.7 433.0,240.4 433.3,247.7C433.6,255.0 433.8,262.8 434.1,270.4C434.4,277.9 434.8,284.7 435.2,293.0C435.6,301.3 435.9,311.0 436.4,320.0C436.9,329.0 437.4,338.1 438.0,347.2C438.6,356.3 439.1,365.3 439.7,374.4C440.3,383.5 441.1,393.7 441.8,401.6C442.6,409.5 443.4,416.9 444.2,422.0C445.0,427.1 445.4,433.4 446.4,432.3C447.4,431.2 449.0,422.6 450.2,415.2C451.4,407.8 452.2,397.1 453.3,388.0C454.4,378.9 455.9,367.6 457.0,360.8C458.1,354.0 459.0,350.0 460.1,347.2C461.2,344.4 462.0,344.6 463.5,343.8C465.0,343.0 467.3,343.0 469.0,342.4C470.7,341.8 472.4,341.9 473.7,340.4C474.9,338.9 475.7,336.3 476.5,333.6C477.3,330.9 477.8,328.8 478.5,324.0C479.2,319.2 480.2,310.1 481.0,305.0C481.8,299.9 482.6,300.6 483.4,293.6C484.2,286.6 485.1,271.9 485.9,263.0C486.7,254.1 487.4,248.0 488.1,240.4C488.8,232.8 489.6,224.8 490.2,217.7C490.8,210.6 491.3,205.4 492.0,198.0C492.7,190.6 493.6,180.9 494.3,173.0C495.1,165.1 495.6,158.0 496.5,150.4C497.4,142.8 498.1,134.2 499.4,127.7C500.7,121.2 502.9,111.6 504.3,111.6C505.7,111.6 506.9,121.2 507.9,127.7C508.9,134.2 509.5,142.8 510.1,150.4C510.8,158.0 511.3,165.1 511.8,173.0C512.3,180.9 512.7,190.6 513.0,198.0C513.3,205.4 513.4,210.6 513.7,217.7C514.0,224.8 514.4,232.8 514.8,240.4C515.2,248.0 515.5,254.1 515.9,263.0C516.3,271.9 516.8,285.3 517.1,293.6C517.4,301.9 517.4,301.5 517.9,312.6C518.4,323.7 519.3,341.5 520.2,360.2C521.1,378.9 522.6,412.5 523.2,425.0C523.8,437.5 523.7,431.8 524.0,435.2C524.3,438.6 524.7,442.4 525.0,445.4C525.3,448.4 525.5,450.1 526.0,453.1C526.5,456.1 527.4,463.3 528.3,463.3C529.2,463.3 530.8,456.1 531.6,453.1C532.4,450.1 532.4,448.4 532.9,445.4C533.4,442.4 533.9,440.2 534.4,435.2C534.9,430.2 534.9,421.5 535.6,415.6C536.3,409.7 537.7,403.9 538.5,400.0C539.3,396.1 539.8,394.2 540.5,392.0C541.2,389.8 542.1,388.6 543.0,386.8C543.9,385.0 544.8,383.1 545.9,381.2C547.0,379.3 548.6,377.4 549.8,375.5C551.0,373.6 552.1,372.2 553.2,369.8C554.3,367.4 555.7,364.6 556.6,361.3C557.5,358.0 558.0,353.8 558.6,350.0C559.2,346.2 559.4,343.0 560.1,338.5C560.8,334.0 561.9,327.9 562.8,323.0C563.6,318.1 564.2,316.2 565.2,309.0C566.2,301.8 567.6,289.1 568.6,279.5C569.6,269.9 570.3,260.8 571.3,251.4C572.2,242.0 573.3,231.5 574.3,223.0C575.3,214.5 576.1,208.0 577.1,200.4C578.1,192.8 579.1,183.8 580.5,177.7C581.9,171.6 583.9,164.0 585.4,164.0C586.9,164.0 588.4,171.6 589.6,177.7C590.8,183.8 591.5,192.8 592.4,200.4C593.2,208.0 594.0,214.5 594.7,223.0C595.4,231.5 595.9,242.7 596.4,251.4C596.9,260.1 597.2,268.1 597.5,275.0C597.8,281.9 597.9,286.4 598.3,293.1C598.7,299.8 599.3,307.8 599.7,315.0C600.1,322.2 600.5,329.0 600.9,336.2C601.3,343.4 601.8,350.8 602.3,358.0C602.8,365.2 603.6,373.1 604.1,379.3C604.6,385.5 604.9,390.7 605.2,395.0C605.5,399.3 605.7,401.8 606.0,405.2C606.3,408.6 606.7,412.4 607.2,415.4C607.7,418.4 608.1,420.5 608.8,423.1C609.5,425.7 610.2,431.2 611.3,430.8C612.4,430.4 614.3,423.9 615.4,420.5C616.5,417.1 617.1,413.7 618.0,410.3C618.9,406.9 619.5,403.8 620.5,400.1C621.5,396.4 622.3,391.9 623.7,388.0C625.1,384.1 627.1,380.5 628.8,376.7C630.5,372.9 632.4,369.2 633.9,365.4C635.4,361.6 636.8,357.8 637.9,354.0C639.0,350.2 639.6,347.0 640.7,342.7C641.8,338.4 642.8,335.5 644.3,328.4C645.8,321.3 647.9,308.5 649.6,300.0C651.3,291.5 652.7,284.9 654.5,277.4C656.3,269.8 658.3,260.6 660.4,254.7C662.5,248.8 664.9,242.0 667.0,242.0C669.1,242.0 671.3,248.8 672.9,254.7C674.5,260.6 675.6,269.8 676.8,277.4C678.0,284.9 679.2,293.7 680.2,300.0C681.2,306.3 682.1,308.9 683.0,315.0C683.9,321.1 684.6,331.1 685.4,336.3C686.1,341.5 686.8,343.0 687.5,346.0C688.2,349.0 688.8,351.5 689.5,354.4C690.2,357.3 690.8,360.8 691.8,363.5C692.8,366.2 694.0,370.5 695.4,370.8C696.8,371.1 698.5,367.7 700.4,365.3C702.3,362.9 704.7,359.5 706.7,356.2C708.7,352.9 710.5,349.0 712.5,345.4C714.5,341.8 716.9,337.6 718.5,334.5C720.1,331.4 720.9,329.1 722.0,326.5C723.1,323.9 724.0,321.0 725.0,318.6C726.0,316.2 726.8,314.4 727.9,312.2C729.0,310.0 730.2,307.6 731.4,305.7C732.6,303.8 733.7,302.4 734.9,300.8C736.1,299.2 737.4,297.5 738.8,296.3C740.2,295.1 741.6,294.2 743.3,293.6C744.9,293.0 747.0,292.6 748.7,292.6C750.4,292.6 752.2,292.8 753.7,293.4C755.2,294.0 756.5,295.2 757.6,296.3C758.8,297.4 759.6,298.4 760.6,299.8C761.6,301.2 762.6,303.0 763.6,304.8C764.6,306.6 765.6,308.7 766.5,310.7C767.4,312.7 768.1,314.9 769.0,316.6C769.9,318.3 770.9,319.8 772.0,321.0C773.1,322.2 774.2,323.3 775.6,324.0C777.0,324.7 778.9,325.2 780.4,325.3C781.9,325.4 782.7,325.2 784.4,324.4C786.1,323.6 788.6,322.0 790.7,320.4C792.8,318.8 794.9,316.5 797.0,314.9C799.1,313.3 801.3,312.1 803.4,310.9C805.5,309.7 807.3,308.6 809.7,307.7C812.1,306.8 815.2,305.9 817.6,305.3C820.0,304.7 820.6,304.4 824.2,304.3C827.8,304.2 834.9,304.2 839.0,304.7C843.1,305.2 845.2,306.4 848.9,307.1C852.6,307.8 857.2,309.1 861.3,309.1C865.4,309.1 869.2,307.6 873.7,307.1C878.2,306.6 881.9,306.2 888.5,305.9C895.1,305.6 905.0,305.4 913.3,305.3C921.5,305.2 932.6,305.2 938.0,305.4C943.4,305.6 942.5,306.3 945.4,306.4C948.3,306.5 948.7,306.0 955.3,305.9C961.9,305.8 980.0,305.9 985.0,305.9" stroke="#858585" stroke-width="4.9"/>
<path d="M31.5,561.7C33.7,561.6 40.6,561.5 44.9,561.2C49.2,560.9 53.5,559.8 57.2,559.7C60.9,559.7 63.4,560.3 67.1,560.9C70.8,561.5 75.0,563.3 79.5,563.4C84.0,563.5 86.2,562.1 94.4,561.7C102.7,561.3 119.1,561.3 129.0,561.2C138.9,561.1 147.6,561.5 153.8,561.2C160.0,561.0 162.2,560.5 166.1,559.7C170.0,559.0 174.0,556.8 177.3,556.7C180.6,556.6 182.8,558.0 185.9,559.2C189.0,560.5 192.1,563.7 195.8,564.2C199.5,564.7 203.6,562.8 208.2,562.2C212.8,561.7 219.5,561.1 223.1,560.9C226.7,560.7 227.4,561.7 230.0,561.0C232.6,560.3 235.7,559.4 238.6,556.7C241.5,554.0 244.7,548.6 247.2,544.8C249.7,541.0 251.8,536.2 253.7,534.1C255.6,532.0 256.9,531.7 258.5,532.2C260.1,532.7 261.9,534.1 263.4,537.3C264.9,540.5 266.3,545.7 267.7,551.3C269.1,556.9 270.2,565.5 272.0,570.7C273.8,575.9 276.3,581.4 278.5,582.5C280.7,583.6 282.9,580.1 285.0,577.2C287.1,574.3 288.7,567.5 291.4,565.3C294.1,563.1 298.1,564.2 301.1,563.8C304.2,563.4 307.7,564.1 309.7,563.1C311.7,562.1 311.9,559.7 313.0,558.0C314.1,556.3 314.4,557.4 316.0,552.7C317.6,548.0 320.7,537.5 322.8,530.0C324.9,522.5 326.6,514.9 328.4,507.4C330.2,499.8 331.8,490.7 333.5,484.7C335.2,478.7 337.0,471.6 338.6,471.6C340.2,471.6 341.9,478.7 343.2,484.7C344.5,490.7 345.7,499.8 346.6,507.4C347.5,514.9 348.1,522.9 348.8,530.0C349.5,537.1 350.1,543.5 350.6,550.0C351.2,556.5 351.5,562.9 352.1,569.3C352.8,575.7 353.6,582.2 354.5,588.6C355.4,595.0 356.6,602.8 357.4,607.9C358.2,613.0 358.7,616.1 359.3,619.4C359.9,622.7 360.3,627.5 361.2,627.5C362.1,627.5 363.6,622.7 364.6,619.4C365.6,616.1 366.1,611.8 367.0,607.9C367.9,604.0 368.8,599.5 369.9,596.3C370.9,593.1 372.2,590.4 373.3,588.6C374.4,586.8 375.2,586.4 376.6,585.7C378.0,585.1 380.1,585.2 381.5,584.7C382.9,584.2 384.3,583.8 385.3,582.8C386.3,581.8 387.1,580.5 387.7,578.9C388.3,577.3 388.6,575.4 389.2,573.1C389.8,570.9 390.4,568.0 391.1,565.4C391.8,562.8 392.7,560.3 393.5,557.7C394.3,555.1 394.6,556.1 395.9,550.0C397.2,543.9 399.8,530.9 401.3,521.1C402.8,511.3 403.8,501.1 405.0,491.4C406.2,481.7 407.3,471.5 408.4,463.0C409.5,454.5 410.6,447.9 411.8,440.4C413.0,432.8 413.8,423.7 415.4,417.7C416.9,411.7 419.4,404.6 421.1,404.6C422.8,404.6 424.3,411.7 425.4,417.7C426.5,423.7 427.2,432.8 427.9,440.4C428.6,447.9 429.0,454.5 429.6,463.0C430.2,471.5 430.8,481.9 431.3,491.4C431.8,500.9 432.3,507.7 432.8,520.0C433.3,532.3 434.0,552.6 434.4,565.0C434.8,577.4 434.8,584.7 435.2,594.5C435.6,604.3 436.0,614.2 436.6,624.0C437.2,633.8 438.2,644.9 439.1,653.5C440.0,662.1 440.9,669.5 441.8,675.6C442.7,681.7 443.6,690.0 444.7,690.0C445.8,690.0 447.2,681.7 448.4,675.6C449.6,669.5 450.6,659.6 451.8,653.5C453.0,647.4 454.4,643.6 455.8,638.7C457.2,633.8 458.7,628.9 460.2,624.0C461.7,619.1 463.3,614.1 464.7,609.2C466.1,604.3 467.4,599.4 468.6,594.5C469.8,589.6 470.8,584.6 472.0,579.7C473.2,574.8 474.6,572.0 475.7,565.0C476.8,558.0 477.6,546.3 478.7,538.0C479.8,529.7 481.0,522.9 482.1,515.4C483.2,507.8 484.1,500.3 485.2,492.7C486.3,485.1 487.5,477.8 488.6,470.0C489.7,462.2 490.6,453.8 491.7,446.0C492.8,438.2 493.9,430.9 495.1,423.4C496.3,415.8 497.5,406.7 498.9,400.7C500.3,394.7 501.9,387.6 503.4,387.6C504.9,387.6 506.8,394.7 507.9,400.7C509.0,406.7 509.2,415.8 509.8,423.4C510.4,430.9 511.1,438.2 511.5,446.0C511.9,453.8 512.1,462.7 512.3,470.0C512.5,477.3 512.7,482.4 512.9,490.0C513.1,497.6 513.2,507.4 513.5,515.4C513.8,523.4 514.0,529.5 514.4,538.0C514.8,546.5 515.0,555.5 515.6,566.4C516.2,577.3 517.3,590.9 518.1,603.5C518.9,616.1 519.5,629.2 520.4,642.1C521.3,655.0 522.4,669.4 523.3,680.6C524.2,691.8 525.0,701.0 525.8,709.5C526.6,718.0 527.2,731.3 528.2,731.3C529.2,731.3 530.6,718.0 532.0,709.5C533.4,701.0 534.9,691.8 536.8,680.6C538.7,669.4 541.1,655.0 543.5,642.1C545.9,629.2 549.1,613.4 550.9,603.5C552.7,593.6 553.0,590.2 554.1,583.0C555.2,575.8 556.1,567.9 557.2,560.4C558.3,552.9 559.2,545.3 560.6,537.7C562.0,530.1 563.6,522.5 565.4,515.0C567.2,507.6 569.5,500.4 571.5,493.0C573.5,485.6 575.4,477.9 577.2,470.4C579.0,462.8 580.6,453.6 582.3,447.7C584.0,441.8 585.7,435.0 587.2,435.0C588.7,435.0 590.4,441.8 591.4,447.7C592.4,453.6 592.6,462.8 593.1,470.4C593.6,477.9 594.0,485.6 594.4,493.0C594.8,500.4 595.2,507.5 595.6,515.0C596.0,522.5 596.4,530.5 596.8,538.0C597.2,545.5 597.6,552.5 598.0,560.0C598.4,567.5 598.8,575.5 599.3,583.0C599.8,590.5 600.3,596.8 600.8,605.0C601.3,613.2 601.7,622.2 602.3,632.0C602.9,641.8 603.7,653.0 604.6,663.5C605.5,674.0 606.7,687.1 607.8,695.2C608.9,703.3 610.1,711.9 611.4,711.9C612.7,711.9 614.5,702.0 615.7,695.2C617.0,688.5 617.7,679.3 618.9,671.4C620.1,663.5 622.0,653.1 622.9,647.6C623.8,642.1 623.5,643.5 624.3,638.5C625.0,633.5 626.2,625.0 627.4,617.3C628.5,609.6 630.1,598.5 631.2,592.3C632.3,586.1 633.1,584.0 634.0,580.0C634.9,576.0 635.9,571.4 636.8,568.0C637.7,564.6 638.7,562.4 639.5,559.5C640.3,556.6 641.0,552.9 641.8,550.4C642.6,547.9 643.5,546.4 644.5,544.5C645.5,542.6 646.7,540.8 647.9,539.3C649.1,537.8 650.4,536.6 651.7,535.6C653.0,534.6 654.3,534.2 655.5,533.2C656.7,532.2 657.8,531.5 658.8,529.8C659.8,528.1 660.4,525.3 661.2,523.2C662.0,521.1 662.7,519.4 663.5,517.3C664.3,515.2 665.0,513.9 666.1,510.7C667.2,507.4 668.8,497.8 670.4,497.8C672.0,497.8 674.4,504.8 675.7,510.7C677.0,516.6 677.2,525.9 678.0,533.4C678.8,540.9 679.6,549.9 680.2,556.0C680.8,562.1 681.0,565.2 681.5,570.0C682.0,574.8 682.3,579.1 682.9,585.0C683.5,590.9 684.4,598.2 685.2,605.4C686.0,612.6 686.8,622.3 687.5,628.0C688.2,633.7 688.8,636.1 689.7,639.4C690.6,642.7 691.6,648.0 692.9,648.0C694.2,648.0 696.4,643.7 697.7,639.4C699.0,635.1 699.5,628.1 700.5,622.4C701.5,616.7 702.7,611.1 703.9,605.4C705.1,599.7 706.5,593.4 707.9,588.3C709.3,583.2 710.7,578.7 712.4,574.7C714.1,570.7 716.0,567.0 718.1,564.5C720.2,562.0 722.6,560.7 724.9,559.5C727.2,558.3 729.4,557.9 731.9,557.5C734.4,557.1 737.6,558.2 739.9,557.1C742.2,556.0 743.3,553.3 745.5,550.7C747.7,548.1 751.0,542.7 753.0,541.7C755.0,540.8 756.1,543.1 757.5,545.0C758.9,546.9 760.4,549.7 761.4,553.0C762.4,556.3 762.3,559.8 763.5,564.6C764.7,569.4 767.1,578.0 768.5,581.9C769.9,585.8 770.4,586.9 771.6,588.1C772.8,589.3 773.8,590.1 775.5,589.3C777.2,588.5 779.8,586.0 782.1,583.1C784.4,580.2 786.6,575.1 789.5,572.0C792.4,568.9 795.3,566.2 799.4,564.6C803.5,563.0 809.8,562.7 814.3,562.1C818.8,561.5 823.1,561.3 826.6,560.8C830.1,560.3 832.6,559.1 835.3,559.1C838.0,559.1 840.2,559.8 842.7,560.8C845.2,561.8 847.0,564.4 850.1,565.0C853.2,565.6 857.4,565.1 861.3,564.6C865.2,564.1 865.0,562.5 873.7,562.1C882.4,561.7 894.8,562.0 913.3,562.1C931.8,562.2 973.0,562.5 985.0,562.6" stroke="#858585" stroke-width="4.9"/>
<path d="M31.5,305.2C36.2,305.2 50.2,305.3 60.0,305.3C69.8,305.3 80.0,305.4 90.0,305.3C100.0,305.2 111.0,304.9 120.0,304.8C129.0,304.7 137.9,304.8 143.8,304.5C149.7,304.2 151.7,303.4 155.6,302.9C159.5,302.4 163.5,302.0 167.5,301.7C171.5,301.4 176.0,300.9 179.4,301.0C182.8,301.1 185.3,301.5 187.7,302.2C190.1,302.9 191.5,304.4 193.7,305.2C195.9,306.0 198.4,306.9 200.8,307.0C203.2,307.1 205.5,306.3 207.9,305.8C210.3,305.3 212.2,304.5 215.0,304.0C217.8,303.5 222.0,303.2 224.5,302.8C227.0,302.4 227.8,302.2 230.0,301.6C232.2,301.0 235.2,300.9 237.9,299.2C240.6,297.5 243.4,294.2 245.9,291.3C248.4,288.4 250.5,283.9 252.8,281.7C255.1,279.5 257.7,277.7 259.8,278.0C261.9,278.3 263.9,279.8 265.7,283.3C267.5,286.8 268.9,293.9 270.7,299.2C272.5,304.5 274.6,311.4 276.6,315.1C278.6,318.8 280.6,320.8 282.6,321.4C284.6,322.0 286.5,321.4 288.5,319.0C290.5,316.6 292.5,310.0 294.5,307.1C296.5,304.2 298.1,302.8 300.4,301.6C302.7,300.4 306.4,300.2 308.4,299.8C310.4,299.4 311.1,299.5 312.5,299.0C313.9,298.5 315.2,298.3 316.5,296.8C317.8,295.3 318.6,294.0 320.1,290.0C321.7,286.0 324.0,279.6 325.8,273.0C327.6,266.4 329.2,257.9 330.9,250.4C332.6,242.8 334.3,233.2 336.0,227.7C337.7,222.2 339.7,217.3 341.3,217.3C342.9,217.3 344.5,222.2 345.8,227.7C347.1,233.2 348.0,242.8 349.0,250.4C350.0,257.9 351.0,266.4 351.8,273.0C352.6,279.6 353.2,283.8 353.7,290.0C354.2,296.2 354.2,303.6 354.7,310.4C355.2,317.2 355.9,324.0 356.7,330.8C357.5,337.6 358.5,346.1 359.3,351.2C360.1,356.3 360.5,358.4 361.3,361.4C362.1,364.4 362.9,369.0 363.9,369.0C364.9,369.0 366.5,364.4 367.4,361.4C368.3,358.4 368.6,355.4 369.5,351.2C370.4,346.9 371.4,341.0 372.6,335.9C373.8,330.8 375.3,324.3 376.6,320.6C377.9,316.9 379.0,315.1 380.2,313.5C381.4,311.9 382.4,311.4 383.8,310.9C385.2,310.4 387.3,310.7 388.9,310.4C390.5,310.1 392.3,309.8 393.5,308.9C394.7,308.0 395.2,306.9 396.0,305.3C396.8,303.7 397.4,301.4 398.1,299.2C398.8,297.0 399.3,296.8 400.1,292.0C400.9,287.2 401.9,277.8 402.9,270.4C403.9,263.0 405.2,255.0 406.3,247.7C407.4,240.4 408.2,234.7 409.2,226.4C410.2,218.1 411.3,206.5 412.2,198.0C413.1,189.5 413.9,183.0 414.8,175.4C415.7,167.8 416.4,158.7 417.7,152.7C419.0,146.7 421.0,139.2 422.4,139.2C423.8,139.2 425.2,146.7 426.2,152.7C427.2,158.7 427.6,167.8 428.4,175.4C429.1,183.0 430.0,189.5 430.7,198.0C431.4,206.5 432.0,218.1 432.4,226.4C432.8,234.7 433.0,240.4 433.3,247.7C433.6,255.0 433.8,262.8 434.1,270.4C434.4,277.9 434.8,284.7 435.2,293.0C435.6,301.3 435.9,311.0 436.4,320.0C436.9,329.0 437.4,338.1 438.0,347.2C438.6,356.3 439.1,365.3 439.7,374.4C440.3,383.5 441.1,393.7 441.8,401.6C442.6,409.5 443.4,416.9 444.2,422.0C445.0,427.1 445.4,433.4 446.4,432.3C447.4,431.2 449.0,422.6 450.2,415.2C451.4,407.8 452.2,397.1 453.3,388.0C454.4,378.9 455.9,367.6 457.0,360.8C458.1,354.0 459.0,350.0 460.1,347.2C461.2,344.4 462.0,344.6 463.5,343.8C465.0,343.0 467.3,343.0 469.0,342.4C470.7,341.8 472.4,341.9 473.7,340.4C474.9,338.9 475.7,336.3 476.5,333.6C477.3,330.9 477.8,328.8 478.5,324.0C479.2,319.2 480.2,310.1 481.0,305.0C481.8,299.9 482.6,300.6 483.4,293.6C484.2,286.6 485.1,271.9 485.9,263.0C486.7,254.1 487.4,248.0 488.1,240.4C488.8,232.8 489.6,224.8 490.2,217.7C490.8,210.6 491.3,205.4 492.0,198.0C492.7,190.6 493.6,180.9 494.3,173.0C495.1,165.1 495.6,158.0 496.5,150.4C497.4,142.8 498.1,134.2 499.4,127.7C500.7,121.2 502.9,111.6 504.3,111.6C505.7,111.6 506.9,121.2 507.9,127.7C508.9,134.2 509.5,142.8 510.1,150.4C510.8,158.0 511.3,165.1 511.8,173.0C512.3,180.9 512.7,190.6 513.0,198.0C513.3,205.4 513.4,210.6 513.7,217.7C514.0,224.8 514.4,232.8 514.8,240.4C515.2,248.0 515.5,254.1 515.9,263.0C516.3,271.9 516.8,285.3 517.1,293.6C517.4,301.9 517.4,301.5 517.9,312.6C518.4,323.7 519.3,341.5 520.2,360.2C521.1,378.9 522.6,412.5 523.2,425.0C523.8,437.5 523.7,431.8 524.0,435.2C524.3,438.6 524.7,442.4 525.0,445.4C525.3,448.4 525.5,450.1 526.0,453.1C526.5,456.1 527.4,463.3 528.3,463.3C529.2,463.3 530.8,456.1 531.6,453.1C532.4,450.1 532.4,448.4 532.9,445.4C533.4,442.4 533.9,440.2 534.4,435.2C534.9,430.2 534.9,421.5 535.6,415.6C536.3,409.7 537.7,403.9 538.5,400.0C539.3,396.1 539.8,394.2 540.5,392.0C541.2,389.8 542.1,388.6 543.0,386.8C543.9,385.0 544.8,383.1 545.9,381.2C547.0,379.3 548.6,377.4 549.8,375.5C551.0,373.6 552.1,372.2 553.2,369.8C554.3,367.4 555.7,364.6 556.6,361.3C557.5,358.0 558.0,353.8 558.6,350.0C559.2,346.2 559.4,343.0 560.1,338.5C560.8,334.0 561.9,327.9 562.8,323.0C563.6,318.1 564.2,316.2 565.2,309.0C566.2,301.8 567.6,289.1 568.6,279.5C569.6,269.9 570.3,260.8 571.3,251.4C572.2,242.0 573.3,231.5 574.3,223.0C575.3,214.5 576.1,208.0 577.1,200.4C578.1,192.8 579.1,183.8 580.5,177.7C581.9,171.6 583.9,164.0 585.4,164.0C586.9,164.0 588.4,171.6 589.6,177.7C590.8,183.8 591.5,192.8 592.4,200.4C593.2,208.0 594.0,214.5 594.7,223.0C595.4,231.5 595.9,242.7 596.4,251.4C596.9,260.1 597.2,268.1 597.5,275.0C597.8,281.9 597.9,286.4 598.3,293.1C598.7,299.8 599.3,307.8 599.7,315.0C600.1,322.2 600.5,329.0 600.9,336.2C601.3,343.4 601.8,350.8 602.3,358.0C602.8,365.2 603.6,373.1 604.1,379.3C604.6,385.5 604.9,390.7 605.2,395.0C605.5,399.3 605.7,401.8 606.0,405.2C606.3,408.6 606.7,412.4 607.2,415.4C607.7,418.4 608.1,420.5 608.8,423.1C609.5,425.7 610.2,431.2 611.3,430.8C612.4,430.4 614.3,423.9 615.4,420.5C616.5,417.1 617.1,413.7 618.0,410.3C618.9,406.9 619.5,403.8 620.5,400.1C621.5,396.4 622.3,391.9 623.7,388.0C625.1,384.1 627.1,380.5 628.8,376.7C630.5,372.9 632.4,369.2 633.9,365.4C635.4,361.6 636.8,357.8 637.9,354.0C639.0,350.2 639.6,347.0 640.7,342.7C641.8,338.4 642.8,335.5 644.3,328.4C645.8,321.3 647.9,308.5 649.6,300.0C651.3,291.5 652.7,284.9 654.5,277.4C656.3,269.8 658.3,260.6 660.4,254.7C662.5,248.8 664.9,242.0 667.0,242.0C669.1,242.0 671.3,248.8 672.9,254.7C674.5,260.6 675.6,269.8 676.8,277.4C678.0,284.9 679.2,293.7 680.2,300.0C681.2,306.3 682.1,308.9 683.0,315.0C683.9,321.1 684.6,331.1 685.4,336.3C686.1,341.5 686.8,343.0 687.5,346.0C688.2,349.0 688.8,351.5 689.5,354.4C690.2,357.3 690.8,360.8 691.8,363.5C692.8,366.2 694.0,370.5 695.4,370.8C696.8,371.1 698.5,367.7 700.4,365.3C702.3,362.9 704.7,359.5 706.7,356.2C708.7,352.9 710.5,349.0 712.5,345.4C714.5,341.8 716.9,337.6 718.5,334.5C720.1,331.4 720.9,329.1 722.0,326.5C723.1,323.9 724.0,321.0 725.0,318.6C726.0,316.2 726.8,314.4 727.9,312.2C729.0,310.0 730.2,307.6 731.4,305.7C732.6,303.8 733.7,302.4 734.9,300.8C736.1,299.2 737.4,297.5 738.8,296.3C740.2,295.1 741.6,294.2 743.3,293.6C744.9,293.0 747.0,292.6 748.7,292.6C750.4,292.6 752.2,292.8 753.7,293.4C755.2,294.0 756.5,295.2 757.6,296.3C758.8,297.4 759.6,298.4 760.6,299.8C761.6,301.2 762.6,303.0 763.6,304.8C764.6,306.6 765.6,308.7 766.5,310.7C767.4,312.7 768.1,314.9 769.0,316.6C769.9,318.3 770.9,319.8 772.0,321.0C773.1,322.2 774.2,323.3 775.6,324.0C777.0,324.7 778.9,325.2 780.4,325.3C781.9,325.4 782.7,325.2 784.4,324.4C786.1,323.6 788.6,322.0 790.7,320.4C792.8,318.8 794.9,316.5 797.0,314.9C799.1,313.3 801.3,312.1 803.4,310.9C805.5,309.7 807.3,308.6 809.7,307.7C812.1,306.8 815.2,305.9 817.6,305.3C820.0,304.7 820.6,304.4 824.2,304.3C827.8,304.2 834.9,304.2 839.0,304.7C843.1,305.2 845.2,306.4 848.9,307.1C852.6,307.8 857.2,309.1 861.3,309.1C865.4,309.1 869.2,307.6 873.7,307.1C878.2,306.6 881.9,306.2 888.5,305.9C895.1,305.6 905.0,305.4 913.3,305.3C921.5,305.2 932.6,305.2 938.0,305.4C943.4,305.6 942.5,306.3 945.4,306.4C948.3,306.5 948.7,306.0 955.3,305.9C961.9,305.8 980.0,305.9 985.0,305.9" stroke="#3e3e3e" stroke-width="2.8"/>
<path d="M31.5,561.7C33.7,561.6 40.6,561.5 44.9,561.2C49.2,560.9 53.5,559.8 57.2,559.7C60.9,559.7 63.4,560.3 67.1,560.9C70.8,561.5 75.0,563.3 79.5,563.4C84.0,563.5 86.2,562.1 94.4,561.7C102.7,561.3 119.1,561.3 129.0,561.2C138.9,561.1 147.6,561.5 153.8,561.2C160.0,561.0 162.2,560.5 166.1,559.7C170.0,559.0 174.0,556.8 177.3,556.7C180.6,556.6 182.8,558.0 185.9,559.2C189.0,560.5 192.1,563.7 195.8,564.2C199.5,564.7 203.6,562.8 208.2,562.2C212.8,561.7 219.5,561.1 223.1,560.9C226.7,560.7 227.4,561.7 230.0,561.0C232.6,560.3 235.7,559.4 238.6,556.7C241.5,554.0 244.7,548.6 247.2,544.8C249.7,541.0 251.8,536.2 253.7,534.1C255.6,532.0 256.9,531.7 258.5,532.2C260.1,532.7 261.9,534.1 263.4,537.3C264.9,540.5 266.3,545.7 267.7,551.3C269.1,556.9 270.2,565.5 272.0,570.7C273.8,575.9 276.3,581.4 278.5,582.5C280.7,583.6 282.9,580.1 285.0,577.2C287.1,574.3 288.7,567.5 291.4,565.3C294.1,563.1 298.1,564.2 301.1,563.8C304.2,563.4 307.7,564.1 309.7,563.1C311.7,562.1 311.9,559.7 313.0,558.0C314.1,556.3 314.4,557.4 316.0,552.7C317.6,548.0 320.7,537.5 322.8,530.0C324.9,522.5 326.6,514.9 328.4,507.4C330.2,499.8 331.8,490.7 333.5,484.7C335.2,478.7 337.0,471.6 338.6,471.6C340.2,471.6 341.9,478.7 343.2,484.7C344.5,490.7 345.7,499.8 346.6,507.4C347.5,514.9 348.1,522.9 348.8,530.0C349.5,537.1 350.1,543.5 350.6,550.0C351.2,556.5 351.5,562.9 352.1,569.3C352.8,575.7 353.6,582.2 354.5,588.6C355.4,595.0 356.6,602.8 357.4,607.9C358.2,613.0 358.7,616.1 359.3,619.4C359.9,622.7 360.3,627.5 361.2,627.5C362.1,627.5 363.6,622.7 364.6,619.4C365.6,616.1 366.1,611.8 367.0,607.9C367.9,604.0 368.8,599.5 369.9,596.3C370.9,593.1 372.2,590.4 373.3,588.6C374.4,586.8 375.2,586.4 376.6,585.7C378.0,585.1 380.1,585.2 381.5,584.7C382.9,584.2 384.3,583.8 385.3,582.8C386.3,581.8 387.1,580.5 387.7,578.9C388.3,577.3 388.6,575.4 389.2,573.1C389.8,570.9 390.4,568.0 391.1,565.4C391.8,562.8 392.7,560.3 393.5,557.7C394.3,555.1 394.6,556.1 395.9,550.0C397.2,543.9 399.8,530.9 401.3,521.1C402.8,511.3 403.8,501.1 405.0,491.4C406.2,481.7 407.3,471.5 408.4,463.0C409.5,454.5 410.6,447.9 411.8,440.4C413.0,432.8 413.8,423.7 415.4,417.7C416.9,411.7 419.4,404.6 421.1,404.6C422.8,404.6 424.3,411.7 425.4,417.7C426.5,423.7 427.2,432.8 427.9,440.4C428.6,447.9 429.0,454.5 429.6,463.0C430.2,471.5 430.8,481.9 431.3,491.4C431.8,500.9 432.3,507.7 432.8,520.0C433.3,532.3 434.0,552.6 434.4,565.0C434.8,577.4 434.8,584.7 435.2,594.5C435.6,604.3 436.0,614.2 436.6,624.0C437.2,633.8 438.2,644.9 439.1,653.5C440.0,662.1 440.9,669.5 441.8,675.6C442.7,681.7 443.6,690.0 444.7,690.0C445.8,690.0 447.2,681.7 448.4,675.6C449.6,669.5 450.6,659.6 451.8,653.5C453.0,647.4 454.4,643.6 455.8,638.7C457.2,633.8 458.7,628.9 460.2,624.0C461.7,619.1 463.3,614.1 464.7,609.2C466.1,604.3 467.4,599.4 468.6,594.5C469.8,589.6 470.8,584.6 472.0,579.7C473.2,574.8 474.6,572.0 475.7,565.0C476.8,558.0 477.6,546.3 478.7,538.0C479.8,529.7 481.0,522.9 482.1,515.4C483.2,507.8 484.1,500.3 485.2,492.7C486.3,485.1 487.5,477.8 488.6,470.0C489.7,462.2 490.6,453.8 491.7,446.0C492.8,438.2 493.9,430.9 495.1,423.4C496.3,415.8 497.5,406.7 498.9,400.7C500.3,394.7 501.9,387.6 503.4,387.6C504.9,387.6 506.8,394.7 507.9,400.7C509.0,406.7 509.2,415.8 509.8,423.4C510.4,430.9 511.1,438.2 511.5,446.0C511.9,453.8 512.1,462.7 512.3,470.0C512.5,477.3 512.7,482.4 512.9,490.0C513.1,497.6 513.2,507.4 513.5,515.4C513.8,523.4 514.0,529.5 514.4,538.0C514.8,546.5 515.0,555.5 515.6,566.4C516.2,577.3 517.3,590.9 518.1,603.5C518.9,616.1 519.5,629.2 520.4,642.1C521.3,655.0 522.4,669.4 523.3,680.6C524.2,691.8 525.0,701.0 525.8,709.5C526.6,718.0 527.2,731.3 528.2,731.3C529.2,731.3 530.6,718.0 532.0,709.5C533.4,701.0 534.9,691.8 536.8,680.6C538.7,669.4 541.1,655.0 543.5,642.1C545.9,629.2 549.1,613.4 550.9,603.5C552.7,593.6 553.0,590.2 554.1,583.0C555.2,575.8 556.1,567.9 557.2,560.4C558.3,552.9 559.2,545.3 560.6,537.7C562.0,530.1 563.6,522.5 565.4,515.0C567.2,507.6 569.5,500.4 571.5,493.0C573.5,485.6 575.4,477.9 577.2,470.4C579.0,462.8 580.6,453.6 582.3,447.7C584.0,441.8 585.7,435.0 587.2,435.0C588.7,435.0 590.4,441.8 591.4,447.7C592.4,453.6 592.6,462.8 593.1,470.4C593.6,477.9 594.0,485.6 594.4,493.0C594.8,500.4 595.2,507.5 595.6,515.0C596.0,522.5 596.4,530.5 596.8,538.0C597.2,545.5 597.6,552.5 598.0,560.0C598.4,567.5 598.8,575.5 599.3,583.0C599.8,590.5 600.3,596.8 600.8,605.0C601.3,613.2 601.7,622.2 602.3,632.0C602.9,641.8 603.7,653.0 604.6,663.5C605.5,674.0 606.7,687.1 607.8,695.2C608.9,703.3 610.1,711.9 611.4,711.9C612.7,711.9 614.5,702.0 615.7,695.2C617.0,688.5 617.7,679.3 618.9,671.4C620.1,663.5 622.0,653.1 622.9,647.6C623.8,642.1 623.5,643.5 624.3,638.5C625.0,633.5 626.2,625.0 627.4,617.3C628.5,609.6 630.1,598.5 631.2,592.3C632.3,586.1 633.1,584.0 634.0,580.0C634.9,576.0 635.9,571.4 636.8,568.0C637.7,564.6 638.7,562.4 639.5,559.5C640.3,556.6 641.0,552.9 641.8,550.4C642.6,547.9 643.5,546.4 644.5,544.5C645.5,542.6 646.7,540.8 647.9,539.3C649.1,537.8 650.4,536.6 651.7,535.6C653.0,534.6 654.3,534.2 655.5,533.2C656.7,532.2 657.8,531.5 658.8,529.8C659.8,528.1 660.4,525.3 661.2,523.2C662.0,521.1 662.7,519.4 663.5,517.3C664.3,515.2 665.0,513.9 666.1,510.7C667.2,507.4 668.8,497.8 670.4,497.8C672.0,497.8 674.4,504.8 675.7,510.7C677.0,516.6 677.2,525.9 678.0,533.4C678.8,540.9 679.6,549.9 680.2,556.0C680.8,562.1 681.0,565.2 681.5,570.0C682.0,574.8 682.3,579.1 682.9,585.0C683.5,590.9 684.4,598.2 685.2,605.4C686.0,612.6 686.8,622.3 687.5,628.0C688.2,633.7 688.8,636.1 689.7,639.4C690.6,642.7 691.6,648.0 692.9,648.0C694.2,648.0 696.4,643.7 697.7,639.4C699.0,635.1 699.5,628.1 700.5,622.4C701.5,616.7 702.7,611.1 703.9,605.4C705.1,599.7 706.5,593.4 707.9,588.3C709.3,583.2 710.7,578.7 712.4,574.7C714.1,570.7 716.0,567.0 718.1,564.5C720.2,562.0 722.6,560.7 724.9,559.5C727.2,558.3 729.4,557.9 731.9,557.5C734.4,557.1 737.6,558.2 739.9,557.1C742.2,556.0 743.3,553.3 745.5,550.7C747.7,548.1 751.0,542.7 753.0,541.7C755.0,540.8 756.1,543.1 757.5,545.0C758.9,546.9 760.4,549.7 761.4,553.0C762.4,556.3 762.3,559.8 763.5,564.6C764.7,569.4 767.1,578.0 768.5,581.9C769.9,585.8 770.4,586.9 771.6,588.1C772.8,589.3 773.8,590.1 775.5,589.3C777.2,588.5 779.8,586.0 782.1,583.1C784.4,580.2 786.6,575.1 789.5,572.0C792.4,568.9 795.3,566.2 799.4,564.6C803.5,563.0 809.8,562.7 814.3,562.1C818.8,561.5 823.1,561.3 826.6,560.8C830.1,560.3 832.6,559.1 835.3,559.1C838.0,559.1 840.2,559.8 842.7,560.8C845.2,561.8 847.0,564.4 850.1,565.0C853.2,565.6 857.4,565.1 861.3,564.6C865.2,564.1 865.0,562.5 873.7,562.1C882.4,561.7 894.8,562.0 913.3,562.1C931.8,562.2 973.0,562.5 985.0,562.6" stroke="#3e3e3e" stroke-width="2.8"/>
</g>
<g stroke="#b8b8b8" stroke-width="6" fill="none">
<line x1="268.8" y1="121" x2="268.8" y2="177.5"/>
<line x1="268.8" y1="665.5" x2="268.8" y2="723"/>
</g>
<g stroke="#777" stroke-width="3" fill="none">
<line x1="269.3" y1="121" x2="269.3" y2="177"/>
<line x1="269.3" y1="666" x2="269.3" y2="723"/>
</g>
<g stroke="#b0b0b0" stroke-width="4" fill="none">
<line x1="200" y1="426.8" x2="258" y2="426.8"/>
</g>
<g fill="#3a3a3a" stroke="#9a9a9a" stroke-width="1.2" stroke-linejoin="round">
<path d="M268.8,113.5 L273.5,118 L274.5,124 L263.5,124 L264.5,118 Z"/>
<path d="M268.8,730.5 L273.5,726 L274.5,720 L263.5,720 L264.5,726 Z"/>
</g>
<g fill="#747474" stroke="#b4b4b4" stroke-width="1" stroke-linejoin="round">
<path d="M194,426.8 L205.5,421.6 L205.5,432 Z"/>
<path d="M264,426.8 L252.5,421.6 L252.5,432 Z"/>
</g>
<g font-size="34.2" style="will-change:transform" stroke="#fff" stroke-width="0.2"><text x="39.6" y="38.9" text-anchor="middle">290</text><text x="189.9" y="38.9" text-anchor="middle">292</text><text x="341.8" y="38.9" text-anchor="middle">294</text><text x="493.3" y="38.9" text-anchor="middle">296</text><text x="644.3" y="38.9" text-anchor="middle">298</text><text x="795.8" y="38.9" text-anchor="middle">300</text><text x="946.5" y="38.9" text-anchor="middle">302</text><text x="146.8" y="812.6" text-anchor="middle">78</text><text x="300.1" y="812.6" text-anchor="middle">80</text><text x="452.6" y="812.6" text-anchor="middle">82</text><text x="605.4" y="812.6" text-anchor="middle">84</text><text x="758.5" y="812.6" text-anchor="middle">86</text><text x="912" y="812.6" text-anchor="middle">88</text></g>
<g font-size="40" style="will-change:transform" stroke="#fff" stroke-width="0.2">
<text x="0" y="275.6" transform="translate(75.9,0) scale(0.72,1)">1</text>
<text x="69.8" y="531.6">2</text>
<text x="218" y="403" font-size="38">&#948;</text>
<text x="0" y="409.6" font-size="29.5" transform="translate(238,0) scale(0.72,1)">1</text>
<text x="445.5" y="850.3">&#956;</text>
<text x="467.1" y="860" font-size="28.5">0</text>
<text x="0" y="850.2" font-style="italic" transform="translate(483.2,0) scale(0.91,1)">H</text>
<text x="508.1" y="860" font-size="28.5">0</text>
<text x="522.9" y="850.5">,</text>
<text x="540.9" y="850.5" transform="translate(540.9,0) scale(0.94,1) translate(-540.9,0)">м</text>
<text x="566" y="850.5" transform="translate(566,0) scale(0.91,1) translate(-566,0)">Т</text>
<text x="586.3" y="850.5" transform="translate(586.3,0) scale(0.93,1) translate(-586.3,0)">л</text>
</g>
</svg>
</body></html>
